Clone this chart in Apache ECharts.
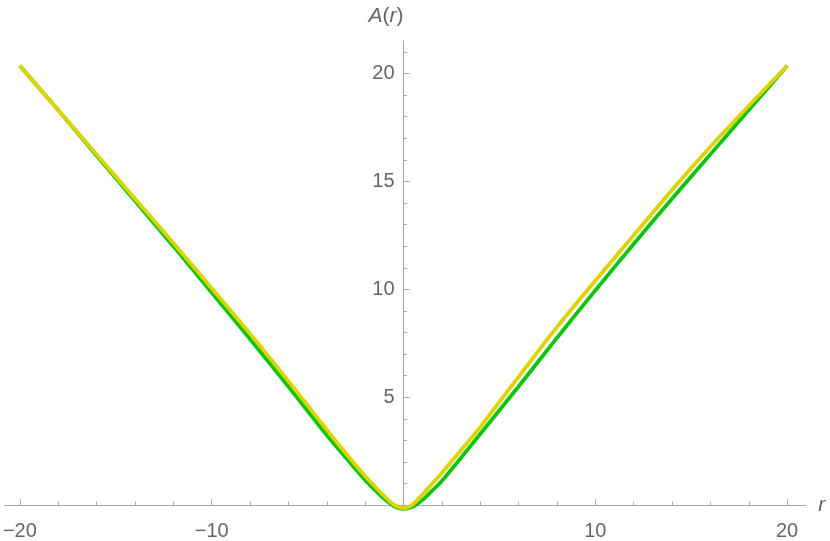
<!DOCTYPE html>
<html>
<head>
<meta charset="utf-8">
<script src="https://cdn.jsdelivr.net/npm/echarts@6/dist/echarts.min.js"></script>
<style>html,body{margin:0;padding:0;background:#fff;}#c{width:830px;height:541px;}</style>
</head>
<body>
<div id="c"></div>
<script>
const rValues = [-20,-18,-16,-14,-12,-10,-8,-6,-4,-3,-2,-1.5,-1,-0.5,-0.25,0,0.25,0.5,1,1.5,2,3,4,6,8,10,12,14,16,18,20];
const greenA  = [20.35,18.3,16.2,14.1,12.0,9.85,7.7,5.5,3.25,2.2,1.17,0.72,0.3,-0.04,-0.13,-0.16,-0.13,-0.06,0.25,0.68,1.13,2.2,3.3,5.5,7.75,9.95,12.1,14.2,16.25,18.3,20.35];
const yellowA = [20.35,18.3,16.25,14.2,12.15,10.05,7.95,5.75,3.5,2.4,1.35,0.88,0.42,0.02,-0.09,-0.13,-0.08,0.05,0.5,1.0,1.5,2.55,3.62,5.95,8.25,10.4,12.5,14.6,16.6,18.5,20.35];
const xMajorTicks = [-20,-10,10,20];
const xMinorTicks = [-18,-16,-14,-12,-8,-6,-4,-2,2,4,6,8,12,14,16,18];
const yMajorTicks = [5,10,15,20];
const yMinorTicks = [1,2,3,4,6,7,8,9,11,12,13,14,16,17,18,19,21];

const pair = (xs, ys) => xs.map((x, i) => [x, ys[i]]);
const axisGray = '#a8a8a8';
const labelGray = '#666666';
const fontFam = '"Liberation Sans", Arial, sans-serif';
const fmt = v => (v < 0 ? '\u2212' + Math.abs(v) : String(v));
const yAxisShift = -399;

const chart = echarts.init(document.getElementById('c'), null, {renderer: 'canvas'});
chart.setOption({
  animation: false,
  backgroundColor: '#ffffff',
  grid: {left: 4.5, right: 23.7, top: 41, bottom: 35.7, containLabel: false, outerBoundsMode: 'none'},
  xAxis: [
    {
      type: 'value', min: -20.8, max: 21, position: 'bottom',
      axisLine: {show: true, onZero: false, lineStyle: {color: axisGray, width: 1}},
      axisTick: {show: true, inside: true, length: 6, customValues: xMajorTicks, lineStyle: {color: axisGray}},
      axisLabel: {show: true, customValues: xMajorTicks, formatter: fmt, margin: 16, color: labelGray, fontSize: 20, fontFamily: fontFam},
      splitLine: {show: false},
      name: 'r', nameLocation: 'end', nameGap: 12,
      nameTextStyle: {fontStyle: 'italic', fontSize: 21, color: labelGray, fontFamily: fontFam, verticalAlign: 'middle'}
    },
    {
      type: 'value', min: -20.8, max: 21, position: 'bottom',
      axisLine: {show: false, onZero: false},
      axisTick: {show: true, inside: true, length: 3.5, customValues: xMinorTicks, lineStyle: {color: axisGray}},
      axisLabel: {show: false},
      splitLine: {show: false}
    }
  ],
  yAxis: [
    {
      type: 'value', min: 0, max: 21.5, position: 'left', offset: yAxisShift,
      axisLine: {show: true, onZero: false, lineStyle: {color: axisGray, width: 1}},
      axisTick: {show: true, inside: true, length: 6, customValues: yMajorTicks, lineStyle: {color: axisGray}},
      axisLabel: {show: true, customValues: yMajorTicks, margin: 9, color: labelGray, fontSize: 20, fontFamily: fontFam},
      splitLine: {show: false},
      name: '{i|A}({i|r})', nameLocation: 'end', nameGap: 14,
      nameTextStyle: {
        fontSize: 21, color: labelGray, fontFamily: fontFam, align: 'right', verticalAlign: 'bottom',
        rich: {i: {fontStyle: 'italic', fontSize: 21, color: labelGray, fontFamily: fontFam}}
      }
    },
    {
      type: 'value', min: 0, max: 21.5, position: 'left', offset: yAxisShift,
      axisLine: {show: false, onZero: false},
      axisTick: {show: true, inside: true, length: 3.5, customValues: yMinorTicks, lineStyle: {color: axisGray}},
      axisLabel: {show: false},
      splitLine: {show: false}
    }
  ],
  series: [
    {
      type: 'line', xAxisIndex: 0, yAxisIndex: 0, data: pair(rValues, greenA),
      smooth: 0.3, showSymbol: false, clip: false,
      lineStyle: {color: '#0cc40c', width: 3.8}, z: 2
    },
    {
      type: 'line', xAxisIndex: 0, yAxisIndex: 0, data: pair(rValues, yellowA),
      smooth: 0.3, showSymbol: false, clip: false,
      lineStyle: {color: '#dcd400', width: 3.8}, z: 3
    }
  ]
});
</script>
</body>
</html>
